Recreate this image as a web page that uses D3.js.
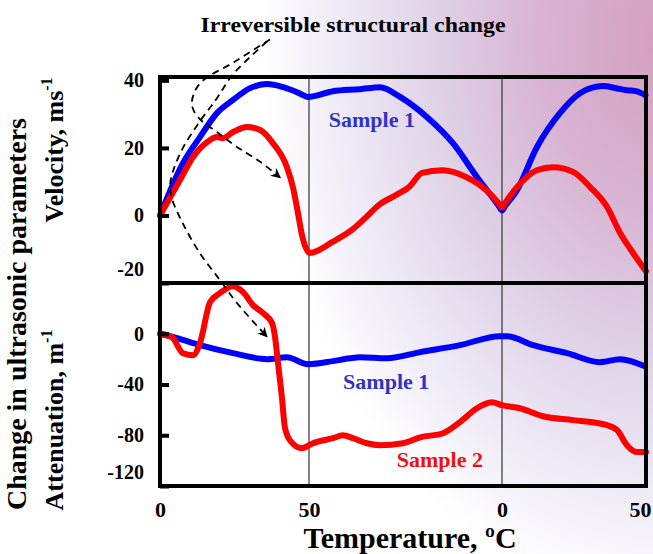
<!DOCTYPE html>
<html>
<head>
<meta charset="utf-8">
<script src="https://cdn.jsdelivr.net/npm/d3@7"></script>
<style>
html,body{margin:0;padding:0;background:#fff;}
svg{display:block;}
text{font-family:"Liberation Serif","Times New Roman",serif;font-weight:bold;}
</style>
</head>
<body>
<div id="chart"></div>
<script>
// ---------------- DATA ----------------
// x = position along the temperature cycle (0→50 °C heating, 50→0 cooling, 0→50 heating)
const xTickValues = [0, 50, 100, 150];
const xTickLabels = ["0", "50", "0", "50"];
const velTicks = [40, 20, 0, -20];
const attTicks = [0, -40, -80, -120];

// Velocity change (m/s) – Sample 1
const velSample1X = [0, 7.7, 13.4, 19.1, 24.5, 30.2, 35.9, 41.3, 46.0, 49.7, 56.2, 63.2, 68.4, 73.6, 80.6, 87.3, 93.5, 99, 100, 101, 105.2, 112.1, 120.1, 127.1, 135.0, 140.0, 143.4, 146.5, 149.8];
const velSample1Y = [0, 15.5, 23.2, 30.3, 34.2, 37.7, 38.9, 38.0, 36.5, 35.1, 36.8, 37.4, 38.0, 35.1, 29.1, 21.4, 11.4, 3.1, 1.5, 2.7, 7.5, 20.2, 30.3, 36.2, 38.3, 37.6, 37.1, 36.8, 35.6];
// Velocity change (m/s) – Sample 2
const velSample2X = [0, 6.7, 11.1, 15.8, 19.1, 21.1, 24.5, 29.2, 33.6, 37.9, 42.6, 44.6, 46.3, 47.5, 50.2, 56.0, 61.1, 64.8, 68.1, 72.5, 75.9, 79.3, 84.5, 90.7, 95.9, 99, 100, 101, 105.2, 112.1, 117.7, 124.7, 130.6, 136.5, 141.0, 145.5, 150];
const velSample2Y = [0, 10.5, 17.3, 21.7, 23.2, 22.9, 24.7, 26.2, 25.3, 21.4, 14.3, 8.4, 0.7, -5.2, -11.1, -7.9, -4.3, -0.5, 3.1, 6.0, 8.4, 12.6, 13.4, 11.4, 7.5, 3.8, 2.4, 3.6, 8.4, 13.4, 14.3, 12.9, 8.4, 2.5, -5.2, -11.1, -16.5];

// Attenuation change (1/m) – Sample 1
const attSample1X = [0, 5.7, 13.4, 24.5, 35.9, 42.6, 49.7, 56.2, 60.6, 63.2, 70.2, 78.8, 89.1, 99.5, 101.7, 110.8, 122.6, 134.0, 141.0, 149.6];
const attSample1Y = [0, -3.5, -9.0, -15.3, -20.0, -18.5, -24.0, -21.6, -19.3, -18.5, -19.3, -14.5, -9.0, -1.9, -1.9, -9.0, -15.3, -22.4, -20.0, -25.6];
// Attenuation change (1/m) – Sample 2
const attSample2X = [0, 4.0, 7.7, 11.1, 13.4, 16.8, 20.1, 24.5, 27.9, 31.2, 34.6, 37.6, 38.6, 39.6, 40.9, 41.9, 43.6, 47.6, 51.0, 56.2, 58.8, 61.4, 65.0, 68.4, 74.3, 78.8, 84.7, 89.1, 93.5, 97.4, 100, 106.2, 114.2, 124.7, 136.5, 140.0, 143.4, 146.9, 150];
const attSample2Y = [0, -2.7, -15.3, -16.9, -7.4, 24.9, 32.0, 37.5, 32.8, 22.6, 16.2, 8.4, -2.7, -23.2, -50.0, -73.7, -83.9, -90.2, -86.3, -82.3, -80.0, -82.3, -86.3, -87.8, -86.3, -81.6, -78.4, -69.7, -58.7, -54.0, -56.3, -58.7, -65.0, -68.1, -72.1, -76.0, -87.8, -93.3, -93.3];

// "Irreversible structural change" annotation arrows, in (x, velocity) units
const arrow1X = [36.9, 25.2, 13.4, 10.7, 11.4, 14.1, 19.1, 25.8, 33.6, 40.3];
const arrow1Y = [52.1, 45.6, 39.1, 33.8, 30.9, 27.9, 24.7, 20.3, 15.9, 11.2];
const arrow2X = [35.9, 24.5, 19.1, 13.4, 7.7, 4.4, 3.4, 4.0, 7.7, 13.4, 20.1, 25.8, 35.9];
const arrow2Y = [51.5, 41.8, 34.7, 27.9, 20.0, 13.2, 9.1, 5.0, -2.4, -11.2, -19.1, -25.9, -35.9];

// ---------------- LAYOUT ----------------
const W = 653, H = 554;
const L = 160, R = 646, TOP = 77, MID = 283, BOT = 486;

const svg = d3.select("#chart").append("svg").attr("width", W).attr("height", H);

// background gradient
const defs = svg.append("defs");
const rg = defs.append("radialGradient").attr("id", "bg")
  .attr("gradientUnits", "userSpaceOnUse").attr("cx", 0).attr("cy", 0).attr("r", 1)
  .attr("gradientTransform", "translate(660,40) scale(400,560)");
[[0, "#d49fc0"], [0.3, "#d8b4d2"], [0.55, "#dfd0e6"], [0.8, "#eeeaf6"], [1, "#ffffff"]]
  .forEach(([o, c]) => rg.append("stop").attr("offset", o).attr("stop-color", c));
svg.append("rect").attr("width", W).attr("height", H).attr("fill", "url(#bg)");

defs.append("marker").attr("id", "arr").attr("viewBox", "0 0 10 10")
  .attr("refX", 9).attr("refY", 5).attr("markerWidth", 10).attr("markerHeight", 10)
  .attr("markerUnits", "userSpaceOnUse").attr("orient", "auto")
  .append("path").attr("d", "M0,0 L10,5 L0,10 L3,5 Z").attr("fill", "#000");

// scales
const x = d3.scaleLinear().domain(xTickValues).range([L, 309, 502, R]);
const yV = d3.scaleLinear().domain([-20, 41]).range([MID, TOP]);
const yA = d3.scaleLinear().domain([-120, 40]).range([BOT, MID]);

// cycle separators
svg.append("g").selectAll("line").data([50, 100]).join("line")
  .attr("x1", d => x(d)).attr("x2", d => x(d)).attr("y1", TOP).attr("y2", BOT)
  .attr("stroke", "#333").attr("stroke-width", 1.2);

// lines
const zip = (xs, ys) => xs.map((v, i) => [v, ys[i]]);
const lineV = d3.line().x(d => x(d[0])).y(d => yV(d[1])).curve(d3.curveMonotoneX);
const lineA = d3.line().x(d => x(d[0])).y(d => yA(d[1])).curve(d3.curveMonotoneX);

const series = [
  {d: zip(velSample1X, velSample1Y), g: lineV, c: "#0000ff"},
  {d: zip(velSample2X, velSample2Y), g: lineV, c: "#ff0000"},
  {d: zip(attSample1X, attSample1Y), g: lineA, c: "#0000ff"},
  {d: zip(attSample2X, attSample2Y), g: lineA, c: "#ff0000"}
];
svg.append("g").selectAll("path").data(series).join("path")
  .attr("d", s => s.g(s.d)).attr("fill", "none").attr("stroke", s => s.c)
  .attr("stroke-width", 6).attr("stroke-linecap", "round").attr("stroke-linejoin", "round");

// annotation arrows
const lineAnn = d3.line().x(d => x(d[0])).y(d => yV(d[1])).curve(d3.curveCatmullRom);
svg.append("g").selectAll("path").data([zip(arrow1X, arrow1Y), zip(arrow2X, arrow2Y)]).join("path")
  .attr("d", lineAnn).attr("fill", "none").attr("stroke", "#000")
  .attr("stroke-width", 1.8).attr("stroke-dasharray", "7,5").attr("marker-end", "url(#arr)");

// frame
const fr = svg.append("g").attr("stroke", "#000").attr("stroke-width", 4).attr("fill", "none");
fr.append("rect").attr("x", L).attr("y", TOP).attr("width", R - L).attr("height", BOT - TOP);
fr.append("line").attr("x1", L).attr("x2", R).attr("y1", MID).attr("y2", MID);

// y axes
function yAxis(scale, ticks) {
  const g = svg.append("g").attr("transform", `translate(${L},0)`)
    .call(d3.axisLeft(scale).tickValues(ticks).tickSize(-9).tickPadding(16).tickFormat(d => String(d)));
  g.select(".domain").remove();
  g.selectAll(".tick line").attr("stroke", "#000").attr("stroke-width", 4);
  g.selectAll(".tick text").attr("font-size", 20).attr("fill", "#000")
    .attr("font-family", "Liberation Serif, Times New Roman, serif");
  g.selectAll(".tick text").filter(d => d === ticks[ticks.length - 1]).attr("dy", "-0.4em");
  return g;
}
yAxis(yV, velTicks);
yAxis(yA, attTicks);

// x axis
const gx = svg.append("g").attr("transform", `translate(0,${BOT})`)
  .call(d3.axisBottom(x).tickValues(xTickValues).tickSize(0).tickPadding(15)
    .tickFormat((d, i) => xTickLabels[i]));
gx.select(".domain").remove();
gx.selectAll(".tick text").attr("font-size", 22).attr("fill", "#000")
  .attr("font-family", "Liberation Serif, Times New Roman, serif");
gx.selectAll(".tick text").filter(d => d === xTickValues[xTickValues.length - 1]).attr("dx", -6);

// titles
svg.append("text").attr("x", 353).attr("y", 32).attr("text-anchor", "middle")
  .attr("font-size", 22).attr("textLength", 305).attr("lengthAdjust", "spacingAndGlyphs")
  .text("Irreversible structural change");

svg.append("text").attr("x", 410).attr("y", 548).attr("text-anchor", "middle")
  .attr("font-size", 30).text("Temperature, ºC");

svg.append("text").attr("transform", "translate(26,314) rotate(-90)").attr("text-anchor", "middle")
  .attr("font-size", 27).attr("textLength", 392).attr("lengthAdjust", "spacingAndGlyphs")
  .text("Change in ultrasonic parameters");

function rotTitle(cx, cy, main, sup) {
  const t = svg.append("text").attr("transform", `translate(${cx},${cy}) rotate(-90)`)
    .attr("text-anchor", "middle").attr("font-size", 26);
  t.append("tspan").text(main);
  t.append("tspan").attr("font-size", 16).attr("dy", -11).text(sup);
}
rotTitle(63, 150, "Velocity, ms", "-1");
rotTitle(63, 420, "Attenuation, m", "-1");

// series labels
const labels = [
  {t: "Sample 1", px: 66.3, v: 26.2, s: yV, c: "#3232c8"},
  {t: "Sample 1", px: 70.0, v: -43.5, s: yA, c: "#3232c8"},
  {t: "Sample 2", px: 83.9, v: -105, s: yA, c: "#ee1010"}
];
svg.append("g").selectAll("text").data(labels).join("text")
  .attr("x", d => x(d.px)).attr("y", d => d.s(d.v)).attr("text-anchor", "middle")
  .attr("font-size", 22).attr("fill", d => d.c).text(d => d.t);
</script>
</body>
</html>
